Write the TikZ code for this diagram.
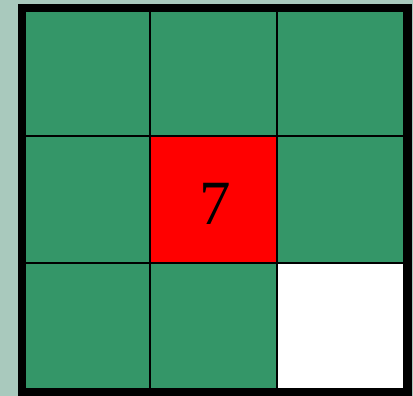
\documentclass[tikz,border=0pt]{standalone}
\usepackage{fontspec}
\setmainfont{Liberation Serif}
\usetikzlibrary{positioning}
\definecolor{bgcol}{RGB}{169,201,189}
\definecolor{cellgreen}{RGB}{52,150,104}

\begin{document}
\begin{tikzpicture}[x=1pt, y=-1pt,
  cell/.style={draw=black, line width=2pt, fill=cellgreen, minimum width=127pt, minimum height=127pt, inner sep=0pt, outer sep=0pt, anchor=north west},
  hot/.style={cell, fill=red},
  hole/.style={cell, fill=white},
  num/.style={font=\fontsize{63}{63}\selectfont, inner sep=0pt}]
\fill[bgcol] (0,0) rectangle (413,396);
\useasboundingbox (0,0) rectangle (413,396);
\node[cell] (c11) at (23,9) {};
\node[cell] (c12) at (150,9) {};
\node[cell] (c13) at (277,9) {};
\node[cell] (c21) at (23,136) {};
\node[hot] (c22) at (150,136) {};
\node[cell] (c23) at (277,136) {};
\node[cell] (c31) at (23,263) {};
\node[cell] (c32) at (150,263) {};
\node[hole] (c33) at (277,263) {};
\node[num] (seven) at ([xshift=2pt, yshift=-4pt]c22.center) {7};
\draw[line width=8pt] (22,8) rectangle (408,392);
\end{tikzpicture}
\end{document}
